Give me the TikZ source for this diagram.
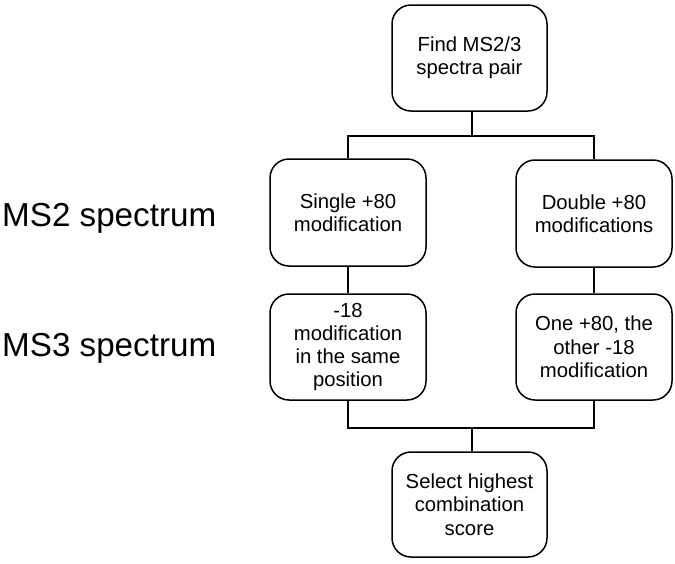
\documentclass[tikz,border=0pt]{standalone}
\usepackage{fontspec}
\setmainfont{Liberation Sans}
\begin{document}
\begin{tikzpicture}[x=1pt,y=-1pt,
  box/.style={draw,line width=1.5pt,rounded corners=19pt,minimum width=156pt,minimum height=106pt,align=center,inner sep=0pt,font=\fontsize{20.3}{23.3}\selectfont},
  conn/.style={line width=1.5pt},
  lbl/.style={anchor=west,inner sep=0pt,font=\fontsize{33.2}{36}\selectfont}]
\useasboundingbox (0,0) rectangle (675,563);
\node[box,minimum width=155pt] (top) at (469.5,58) {Find MS2/3\\spectra pair};
\node[box,minimum height=107pt] (l1) at (348,212.5) {Single +80\\modification};
\node[box,minimum height=107pt] (r1) at (594,213.5) {Double +80\\modifications};
\node[box] (l2) at (348,347) {-18\\modification\\in the same\\position};
\node[box] (r2) at (594,347) {One +80, the\\other -18\\modification};
\node[box,minimum width=155pt,minimum height=105pt] (bot) at (469.5,504.5) {Select highest\\combination\\score};
\coordinate (j1) at (472,136);
\coordinate (j2) at (472,428);
\draw[conn] (j1) -- (j1 |- top.south);
\draw[conn] (l1.north) |- (j1) -| (r1.north);
\draw[conn] (l1.south) -- (l2.north);
\draw[conn] (r1.south) -- (r2.north);
\draw[conn] (l2.south) |- (j2) -| (r2.south);
\draw[conn] (j2) -- (j2 |- bot.north);
\node[lbl] (ms2) at (2,218) {MS2 spectrum};
\node[lbl] (ms3) at (2,348) {MS3 spectrum};
\end{tikzpicture}
\end{document}
